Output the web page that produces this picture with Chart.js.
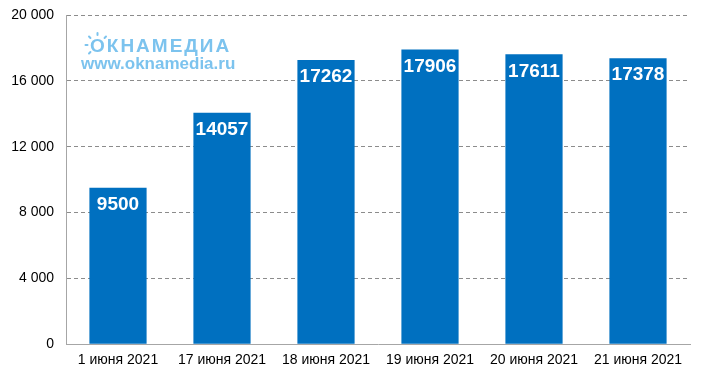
<!DOCTYPE html>
<html><head><meta charset="utf-8">
<script src="https://cdn.jsdelivr.net/npm/chart.js@4"></script>
<style>html,body{margin:0;padding:0;background:#fff}#wrap{width:703px;height:377px}</style>
</head><body><div id="wrap"><canvas id="c" width="703" height="377"></canvas></div>
<script>
const categories = ["1 июня 2021","17 июня 2021","18 июня 2021","19 июня 2021","20 июня 2021","21 июня 2021"];
const values = [9500,14057,17262,17906,17611,17378];
const yTicks = [0,4000,8000,12000,16000,20000];

const fmt = v => v === 0 ? "0" : String(v).replace(/\B(?=(\d{3})+(?!\d))/g, " ");

const labelPlugin = {
  id: 'labels',
  afterDatasetsDraw(chart) {
    const ctx = chart.ctx;
    const meta = chart.getDatasetMeta(0);
    ctx.save();
    ctx.fillStyle = '#fff';
    ctx.font = 'bold 19px "Liberation Sans", Arial, sans-serif';
    ctx.textAlign = 'center';
    ctx.textBaseline = 'middle';
    meta.data.forEach((bar, i) => {
      ctx.fillText(String(values[i]), bar.x, bar.y + 17);
    });
    ctx.restore();
  }
};

const logoPlugin = {
  id: 'logo',
  afterDraw(chart) {
    const ctx = chart.ctx;
    ctx.save();
    ctx.fillStyle = '#7cc3ee';
    ctx.strokeStyle = '#7cc3ee';
    ctx.font = 'bold 19px "Liberation Sans", Arial, sans-serif';
    ctx.textBaseline = 'alphabetic';
    ctx.textAlign = 'left';
    try { ctx.letterSpacing = '2px'; } catch (e) {}
    ctx.fillText('ОКНАМЕДИА', 90, 52);
    try { ctx.letterSpacing = '0px'; } catch (e) {}
    const cx = 97.5, cy = 45;
    ctx.lineWidth = 2;
    ctx.lineCap = 'round';
    [-Math.PI/2, -Math.PI*0.75, -Math.PI*0.25, Math.PI, Math.PI*0.75].forEach(ang => {
      ctx.beginPath();
      ctx.moveTo(cx + Math.cos(ang)*10, cy + Math.sin(ang)*10);
      ctx.lineTo(cx + Math.cos(ang)*12, cy + Math.sin(ang)*12);
      ctx.stroke();
    });
    ctx.font = 'bold 17px "Liberation Sans", Arial, sans-serif';
    ctx.fillText('www.oknamedia.ru', 81, 69);
    ctx.restore();
  }
};

new Chart(document.getElementById('c'), {
  type: 'bar',
  data: {
    labels: categories,
    datasets: [{
      data: values,
      backgroundColor: '#0070c0',
      borderWidth: 0,
      categoryPercentage: 0.55,
      barPercentage: 1.0
    }]
  },
  options: {
    responsive: false,
    animation: false,
    devicePixelRatio: 1,
    layout: { padding: { top: 15, right: 13, bottom: 0, left: 0 } },
    plugins: { legend: { display: false }, tooltip: { enabled: false } },
    scales: {
      x: {
        grid: { display: false, drawTicks: false },
        border: { display: true, color: '#a6a6a6', width: 1 },
        ticks: {
          color: '#000',
          font: { family: '"Liberation Sans", Arial, sans-serif', size: 14 },
          padding: 8,
          maxRotation: 0, autoSkip: false
        }
      },
      y: {
        min: 0, max: 20000,
        afterFit(scale) { scale.width = 66; scale.paddingTop = 0; scale.paddingBottom = 0; },
        afterBuildTicks(scale) { scale.ticks = yTicks.map(v => ({ value: v })); },
        grid: {
          color: ctx => ctx.tick && ctx.tick.value === 0 ? 'rgba(0,0,0,0)' : '#8c8c8c',
          drawTicks: false,
          lineWidth: 1
        },
        border: { display: true, color: '#a6a6a6', width: 1, dash: [4, 3] },
        ticks: {
          color: '#000',
          font: { family: '"Liberation Sans", Arial, sans-serif', size: 14 },
          padding: 12,
          callback: v => fmt(v)
        }
      }
    }
  },
  plugins: [labelPlugin, logoPlugin]
});
</script>
</body></html>
